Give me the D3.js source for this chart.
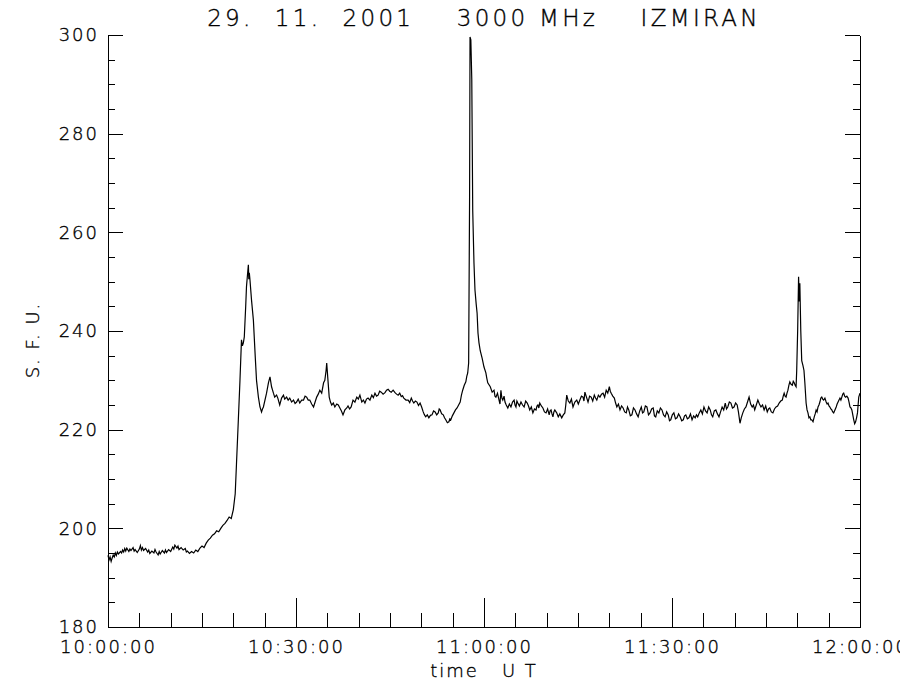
<!DOCTYPE html>
<html>
<head>
<meta charset="utf-8">
<script src="https://cdn.jsdelivr.net/npm/d3@7"></script>
<style>
  html, body { margin: 0; padding: 0; background: #fff; }
  svg text { font-family: "DejaVu Sans", sans-serif; font-weight: 200; fill: #000; stroke: #000; stroke-width: 0.35px; }
</style>
</head>
<body>
<svg id="chart" width="900" height="700"></svg>
<script>
// ---- data (minutes after 10:00:00 UT, solar flux units) ----
const minutes = [0,0.17,0.33,0.5,0.67,0.83,1,1.17,1.33,1.5,1.67,2,2.17,2.33,2.5,2.67,2.83,3,3.33,3.5,3.67,4,4.17,4.33,4.67,5,5.17,5.33,5.5,5.67,6,6.33,6.5,6.67,7,7.33,7.5,7.67,8,8.17,8.33,8.67,9,9.17,9.33,9.67,10,10.33,10.5,10.67,11,11.17,11.33,11.67,12,12.33,12.5,12.67,13,13.33,13.67,14,14.33,14.67,15,15.33,15.67,16,16.33,16.67,17,17.33,17.67,18,18.33,18.67,19,19.33,19.67,20,20.3,20.5,20.8,21.06,21.3,21.45,21.6,21.75,21.97,22.1,22.3,22.4,22.47,22.55,22.66,22.9,23.2,23.5,23.7,24,24.25,24.5,24.65,24.8,25.3,25.6,25.85,26.1,26.4,26.6,26.9,27.1,27.4,27.7,28,28.2,28.5,28.75,29,29.3,29.6,29.85,30.1,30.35,30.6,30.9,31.2,31.45,31.7,31.95,32.2,32.5,32.8,33.05,33.3,33.55,33.8,34.1,34.4,34.6,34.8,34.9,35.06,35.3,35.5,35.7,35.95,36.2,36.5,36.75,37,37.25,37.5,37.8,38.1,38.3,38.55,38.8,39.1,39.4,39.7,39.95,40.2,40.5,40.75,41,41.25,41.5,41.8,42.1,42.35,42.6,42.85,43.1,43.35,43.6,43.9,44.2,44.45,44.7,44.95,45.2,45.5,45.8,46.05,46.3,46.55,46.8,47,47.2,47.55,47.9,48.15,48.4,48.6,48.8,49.05,49.3,49.55,49.8,50.05,50.3,50.5,50.7,50.95,51.2,51.45,51.7,51.95,52.2,52.45,52.7,52.85,53,53.25,53.5,53.7,53.9,54.15,54.4,54.55,54.7,54.95,55.2,55.45,55.7,55.95,56.2,56.4,56.6,56.85,57.1,57.25,57.4,57.55,57.7,57.77,57.9,58.05,58.2,58.4,58.56,58.75,58.9,59.04,59.2,59.4,59.7,60,60.3,60.45,60.6,61,61.3,61.6,61.75,61.9,62.15,62.4,62.55,62.7,62.85,63,63.2,63.35,63.55,63.8,64.05,64.3,64.55,64.8,64.95,65.1,65.25,65.4,65.65,65.9,66.15,66.4,66.65,66.9,67.1,67.3,67.55,67.8,68.05,68.3,68.45,68.6,68.75,68.9,69.15,69.4,69.65,69.9,70.15,70.4,70.55,70.7,70.85,71,71.15,71.3,71.6,71.85,72.1,72.4,72.65,72.9,73.05,73.2,73.45,73.7,73.95,74.2,74.5,74.8,75.05,75.3,75.55,75.8,75.95,76.1,76.35,76.6,76.85,77.1,77.35,77.6,77.8,78,78.25,78.5,78.75,79,79.25,79.5,79.75,80,80.15,80.3,80.55,80.8,81,81.2,81.45,81.7,81.95,82.2,82.45,82.7,82.9,83.1,83.35,83.6,83.85,84.1,84.35,84.6,84.85,85.1,85.3,85.5,85.75,86,86.25,86.5,86.75,87,87.2,87.4,87.65,87.9,88.15,88.4,88.65,88.9,89.15,89.4,89.6,89.8,90.05,90.3,90.55,90.8,91.05,91.3,91.55,91.8,92,92.2,92.45,92.7,92.95,93.2,93.45,93.7,93.9,94.1,94.35,94.6,94.85,95.1,95.35,95.6,95.85,96.1,96.3,96.5,96.75,97,97.25,97.5,97.75,98,98.25,98.5,98.7,98.9,99.15,99.4,99.65,99.9,100.15,100.4,100.6,100.85,101.05,101.3,101.55,101.8,102.05,102.3,102.55,102.8,103,103.2,103.45,103.7,103.95,104.2,104.45,104.7,104.95,105.2,105.4,105.6,105.85,106.1,106.35,106.6,106.85,107.1,107.35,107.6,107.75,107.9,108.05,108.2,108.35,108.5,108.65,108.8,109,109.2,109.35,109.5,109.65,109.8,109.9,110.05,110.2,110.3,110.4,110.55,110.7,110.9,111.06,111.2,111.4,111.55,111.7,111.85,112,112.15,112.3,112.5,112.7,112.85,113,113.15,113.3,113.45,113.6,113.75,113.9,114.05,114.2,114.4,114.6,114.75,114.9,115.05,115.2,115.35,115.5,115.65,115.8,116,116.2,116.35,116.5,116.65,116.8,116.95,117.1,117.25,117.4,117.55,117.7,117.9,118.1,118.25,118.4,118.55,118.7,118.85,119,119.15,119.3,119.45,119.6,119.7,119.8,120];
const sfu = [194.5,193.6,194.2,193.3,194.0,194.6,194.2,195.0,194.5,195.2,194.8,195.3,195.0,195.6,195.2,195.9,195.4,196.0,195.3,195.8,195.5,196.1,195.4,195.7,195.1,195.8,196.5,195.6,196.1,195.5,195.9,195.2,195.6,194.9,195.4,195.0,195.7,195.2,194.6,195.3,194.8,195.5,195.0,195.6,195.1,195.7,195.3,196.2,195.8,196.6,196.0,196.4,195.7,196.1,195.6,195.9,195.2,195.4,194.9,195.3,195.0,195.6,195.3,196.0,196.4,196.1,197.0,197.6,198.0,198.6,198.9,199.5,199.3,200.0,200.6,201.0,201.6,202.3,202.0,203.8,207.0,213.0,222.0,230.0,238.2,237.0,237.6,238.8,244.9,249.0,252.0,253.4,250.5,251.8,250.3,246.3,242.2,234.7,230.0,226.6,224.6,223.6,224.2,224.6,227.4,229.5,230.7,228.7,227.4,226.6,227.0,226.4,225.0,226.4,227.0,226.2,226.6,226.0,226.4,225.6,226.0,225.3,225.6,226.2,225.4,226.0,226.0,226.8,226.6,226.0,226.0,225.2,224.6,225.6,226.6,227.2,228.0,227.4,229.5,230.0,232.0,233.5,230.7,226.6,225.6,225.0,225.4,224.6,225.2,225.0,224.4,223.8,223.0,224.0,224.4,224.8,224.2,224.6,226.0,225.6,226.6,226.2,227.0,225.6,226.0,225.4,226.2,226.4,226.0,227.0,226.5,227.4,226.8,227.0,227.8,227.6,227.2,227.5,228.0,228.2,227.8,227.6,228.0,227.5,227.2,227.0,227.4,226.7,226.9,226.4,226.0,226.0,225.5,226.4,225.8,225.4,225.8,225.6,224.9,225.4,224.6,223.6,223.0,222.6,223.0,222.4,222.9,223.0,223.8,223.6,223.0,223.4,224.2,224.0,223.2,223.0,222.4,222.0,221.4,221.6,222.2,222.0,222.8,223.4,224.0,224.4,225.0,225.6,227.0,228.0,229.0,229.7,230.8,231.5,233.5,267.0,299.6,299.0,291.0,264.5,253.8,248.3,245.5,243.6,239.6,237.6,236.0,234.5,232.7,231.5,230.4,229.5,228.7,227.6,228.0,226.8,226.6,227.4,226.0,225.2,228.0,226.4,226.0,226.8,225.6,225.0,224.4,225.2,224.6,225.6,226.0,225.0,224.6,225.8,225.4,224.8,225.6,225.0,224.6,225.8,225.4,224.8,224.0,224.6,223.4,224.2,224.0,224.8,225.0,224.4,225.4,224.8,224.4,223.6,223.4,224.2,223.0,223.8,224.0,223.2,222.6,223.6,224.0,223.4,222.6,223.2,222.4,223.0,223.4,225.0,227.0,225.8,225.4,226.2,224.6,225.6,226.0,225.2,226.0,226.8,226.6,225.8,227.6,226.6,225.6,226.8,226.6,225.8,227.0,226.4,226.0,227.0,226.6,227.2,227.4,226.6,228.0,227.4,228.7,227.8,227.4,226.8,226.4,225.4,224.6,225.2,224.0,224.8,224.4,223.6,223.4,224.6,224.0,222.8,223.0,224.4,224.0,223.2,222.6,223.8,224.6,223.4,223.6,224.8,224.6,223.0,223.4,224.2,224.4,222.8,222.6,223.8,223.4,224.4,224.0,223.0,222.6,223.6,223.0,221.8,222.0,223.0,223.4,222.2,222.4,223.2,222.6,221.8,222.0,222.8,223.0,222.2,222.4,223.2,222.0,222.8,222.4,223.0,222.6,223.4,224.0,223.2,224.6,223.8,223.4,224.6,224.0,223.0,222.6,223.8,224.0,223.2,222.6,223.6,224.6,224.0,225.4,224.2,224.6,225.6,225.4,224.4,224.6,225.4,225.0,223.6,221.3,222.4,223.4,224.2,224.6,225.6,226.6,225.2,224.6,225.0,224.0,225.0,226.0,225.2,224.6,225.0,224.0,224.8,223.6,224.2,224.4,223.6,223.4,224.2,224.6,224.8,225.4,225.8,226.0,226.8,227.4,226.8,226.6,227.4,228.0,229.0,229.7,229.2,229.0,229.8,229.5,229.0,228.7,232.0,240.0,251.0,246.0,249.7,240.0,234.0,233.0,232.0,229.5,225.4,224.0,223.4,222.4,222.6,222.0,222.0,221.6,222.6,223.2,224.0,223.6,224.6,225.0,225.6,226.4,226.6,226.2,226.0,226.4,225.6,225.2,225.4,224.8,224.6,224.2,224.0,223.6,223.4,224.0,224.6,225.2,225.6,226.0,226.4,226.0,226.6,227.2,227.4,226.8,226.6,226.8,226.4,225.6,224.6,224.4,224.0,223.0,222.0,221.2,221.6,222.4,223.4,225.0,226.6,227.4];

const yMajorTicks = [180, 200, 220, 240, 260, 280, 300];
const yMinorTicks = [185,190,195,205,210,215,225,230,235,245,250,255,265,270,275,285,290,295];
const xMajorTicks = [0, 30, 60, 90, 120];
const xTickLabels = ["10:00:00", "10:30:00", "11:00:00", "11:30:00", "12:00:00"];
const xMinorTicks = [5,10,15,20,25,35,40,45,50,55,65,70,75,80,85,95,100,105,110,115];
const titleText = "29.  11.  2001    3000 MHz    IZMIRAN";
const xTitle = "time   U T";
const yTitle = "S. F. U.";

// ---- layout ----
const L = 108, R = 860, T = 35, B = 627;
const svg = d3.select("#chart");
svg.append("rect").attr("width", 900).attr("height", 700).attr("fill", "#fff");

const x = d3.scaleLinear().domain([0, 120]).range([L, R]);
const y = d3.scaleLinear().domain([180, 300]).range([B, T]);

function styleAxis(g) {
  g.selectAll("path.domain").attr("stroke", "#000").attr("stroke-width", 1.3).attr("shape-rendering", "crispEdges");
  g.selectAll(".tick line").attr("stroke", "#000").attr("stroke-width", 1.3).attr("shape-rendering", "crispEdges");
  g.selectAll(".tick text").attr("font-size", 18).attr("letter-spacing", "2px")
    .attr("font-family", "DejaVu Sans, sans-serif").attr("font-weight", 200);
}

// left axis
const gl = svg.append("g").attr("transform", `translate(${L},0)`)
  .call(d3.axisLeft(y).tickValues(yMajorTicks).tickSize(-15).tickSizeOuter(0).tickPadding(9).tickFormat(d3.format("d")));
styleAxis(gl);
svg.append("g").attr("transform", `translate(${L},0)`)
  .call(d3.axisLeft(y).tickValues(yMinorTicks).tickSize(-7).tickFormat(""))
  .call(g => g.select(".domain").remove()).call(styleAxis);

// right axis
const gr = svg.append("g").attr("transform", `translate(${R},0)`)
  .call(d3.axisRight(y).tickValues(yMajorTicks).tickSize(-15).tickSizeOuter(0).tickFormat(""));
styleAxis(gr);
svg.append("g").attr("transform", `translate(${R},0)`)
  .call(d3.axisRight(y).tickValues(yMinorTicks).tickSize(-7).tickFormat(""))
  .call(g => g.select(".domain").remove()).call(styleAxis);

// bottom axis
const gb = svg.append("g").attr("transform", `translate(0,${B})`)
  .call(d3.axisBottom(x).tickValues(xMajorTicks).tickSize(-29).tickSizeOuter(0).tickPadding(13)
    .tickFormat((d, i) => xTickLabels[i]));
styleAxis(gb);
svg.append("g").attr("transform", `translate(0,${B})`)
  .call(d3.axisBottom(x).tickValues(xMinorTicks).tickSize(-14).tickFormat(""))
  .call(g => g.select(".domain").remove()).call(styleAxis);

// data line
const pts = minutes.map((m, i) => [m, sfu[i]]);
svg.append("path")
  .datum(pts)
  .attr("fill", "none")
  .attr("stroke", "#000")
  .attr("stroke-width", 1.2)
  .attr("stroke-linejoin", "miter")
  .attr("d", d3.line().x(d => x(d[0])).y(d => y(d[1])));

// titles
svg.append("text").attr("x", (L + R) / 2).attr("y", 26).attr("text-anchor", "middle")
  .attr("font-size", 23).attr("letter-spacing", "3.3px").style("white-space", "pre").text(titleText);
svg.append("text").attr("x", (L + R) / 2).attr("y", 677).attr("text-anchor", "middle")
  .attr("font-size", 18).attr("letter-spacing", "2px").style("white-space", "pre").text(xTitle);
svg.append("text").attr("transform", "translate(39,340) rotate(-90)").attr("text-anchor", "middle")
  .attr("font-size", 18).attr("letter-spacing", "2px").style("white-space", "pre").text(yTitle);
</script>
</body>
</html>
